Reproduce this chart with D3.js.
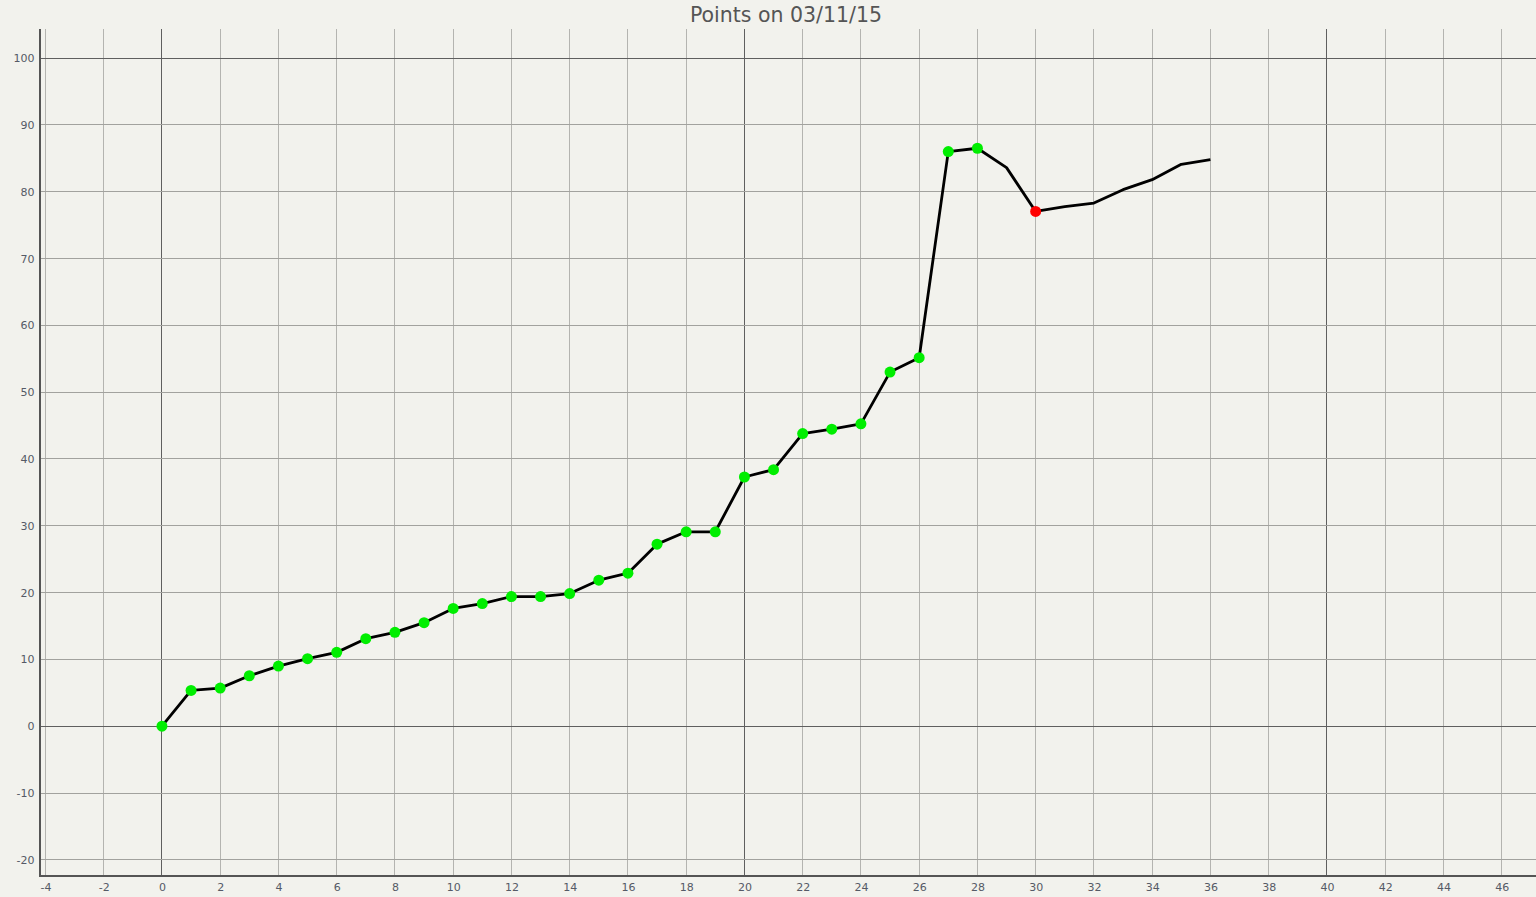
<!DOCTYPE html>
<html>
<head>
<meta charset="utf-8">
<script src="https://cdn.jsdelivr.net/npm/d3@7"></script>
<style>
html,body{margin:0;padding:0;background:#f2f2ed;overflow:hidden;}
svg{display:block;}
</style>
</head>
<body>
<svg id="chart" width="1536" height="897"></svg>
<script>
const title = "Points on 03/11/15";
const xValues = [0,1,2,3,4,5,6,7,8,9,10,11,12,13,14,15,16,17,18,19,20,21,22,23,24,25,26,27,28,29,30,31,32,33,34,35,36];
const yValues = [0,5.35,5.7,7.55,9.0,10.1,11.05,13.1,14.05,15.5,17.62,18.35,19.4,19.4,19.85,21.85,22.9,27.25,29.1,29.1,37.3,38.4,43.8,44.45,45.25,53.0,55.15,86.0,86.5,83.6,77.05,77.75,78.3,80.3,81.8,84.1,84.8];
// marker: "g" = green point, "r" = red point, "" = no marker
const markers = ["g","g","g","g","g","g","g","g","g","g","g","g","g","g","g","g","g","g","g","g","g","g","g","g","g","g","g","g","g","","r","","","","","",""];
const xTicks = [-4,-2,0,2,4,6,8,10,12,14,16,18,20,22,24,26,28,30,32,34,36,38,40,42,44,46];
const yTicks = [-20,-10,0,10,20,30,40,50,60,70,80,90,100];
const xMajor = [0,20,40];
const yMajor = [0,100];

(function(){
const svg = d3.select("#chart");
const pl = 40.5, pr = 1536, pt = 29, pb = 876;
const x = d3.scaleLinear().domain([-4.17, 47.18]).range([pl, pr]);
const y = d3.scaleLinear().domain([-22.42, 104.35]).range([pb, pt]);

const snap = v => Math.floor(v) + 0.5;
const fmt = d => String(d);

svg.append("rect").attr("width",1536).attr("height",897).attr("fill","#f2f2ed");

const grid = svg.append("g").attr("shape-rendering","crispEdges");
grid.selectAll("line.vx").data(xTicks).join("line")
  .attr("x1", d => snap(x(d))).attr("x2", d => snap(x(d)))
  .attr("y1", pt).attr("y2", pb)
  .attr("stroke", d => xMajor.includes(d) ? "#5f5f5f" : "#b4b4b0")
  .attr("stroke-width", 1);
grid.selectAll("line.hy").data(yTicks).join("line")
  .attr("y1", d => snap(y(d))).attr("y2", d => snap(y(d)))
  .attr("x1", pl).attr("x2", pr)
  .attr("stroke", d => yMajor.includes(d) ? "#5f5f5f" : "#a2a29e")
  .attr("stroke-width", 1);

const xAxis = d3.axisBottom(x).tickValues(xTicks).tickSize(0).tickPadding(7).tickFormat(fmt);
const yAxis = d3.axisLeft(y).tickValues(yTicks).tickSize(0).tickPadding(6).tickFormat(fmt);

const gx = svg.append("g").attr("transform", `translate(0,${pb})`).call(xAxis);
const gy = svg.append("g").attr("transform", `translate(${pl},0)`).call(yAxis);
[gx, gy].forEach(g => {
  g.select(".domain").remove();
  g.selectAll("text").attr("font-family","DejaVu Sans, Verdana, sans-serif")
    .attr("font-size","11px").attr("fill","#555a66");
});

svg.append("line").attr("x1",40).attr("x2",40).attr("y1",pt).attr("y2",pb+1)
  .attr("stroke","#555").attr("stroke-width",2).attr("shape-rendering","crispEdges");
svg.append("line").attr("x1",39).attr("x2",pr).attr("y1",pb).attr("y2",pb)
  .attr("stroke","#555").attr("stroke-width",2).attr("shape-rendering","crispEdges");

const data = xValues.map((v,i) => ({x: v, y: yValues[i], m: markers[i]}));
const line = d3.line().x(d => x(d.x)).y(d => y(d.y));
svg.append("path").datum(data).attr("d", line)
  .attr("fill","none").attr("stroke","#000").attr("stroke-width",2.8)
  .attr("stroke-linejoin","round");

svg.selectAll("circle.pt").data(data.filter(d => d.m)).join("circle")
  .attr("cx", d => x(d.x)).attr("cy", d => y(d.y)).attr("r", 5.5)
  .attr("fill", d => d.m === "r" ? "#ff0000" : "#00ee00");

svg.append("text").attr("x", 786).attr("y", 22).attr("text-anchor","middle")
  .attr("font-family","DejaVu Sans, Verdana, sans-serif").attr("font-size","20.5px")
  .attr("fill","#555").text(title);
})();
</script>
</body>
</html>
